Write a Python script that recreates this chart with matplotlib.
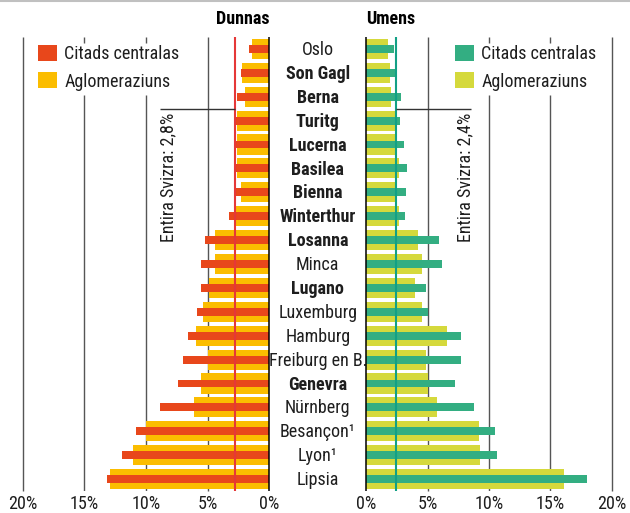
import glob
import matplotlib
matplotlib.use("Agg")
import matplotlib.pyplot as plt
import matplotlib.font_manager as fm
from matplotlib.lines import Line2D

# Prefer a narrow sans face; register any narrow/condensed files on the system
for pattern in ("*Narrow*", "*Condensed*", "*Cond*"):
    for path in glob.glob("/usr/share/fonts/**/" + pattern + ".[ot]tf", recursive=True):
        try:
            fm.fontManager.addfont(path)
        except Exception:
            pass

installed = {f.name for f in fm.fontManager.ttflist}
narrow_choices = ["Liberation Sans Narrow", "DejaVu Sans Condensed", "Roboto Condensed",
                  "Open Sans Condensed", "Noto Sans Condensed"]
narrow = [n for n in narrow_choices if n in installed]
if narrow:
    FAMILY = [narrow[0], "DejaVu Sans"]
    FS = 13
else:
    FAMILY = ["Roboto", "DejaVu Sans"]
    FS = 11

plt.rcParams["font.family"] = FAMILY
plt.rcParams["font.size"] = FS

# Data -----------------------------------------------------------------
cities = ["Oslo", "Son Gagl", "Berna", "Turitg", "Lucerna", "Basilea", "Bienna",
          "Winterthur", "Losanna", "Minca", "Lugano", "Luxemburg", "Hamburg",
          "Freiburg en B.", "Genevra", "Nürnberg", "Besançon¹", "Lyon¹", "Lipsia"]
swiss = [False, True, True, True, True, True, True, True, True, False, True,
         False, False, False, True, False, False, False, False]

women_center = [1.65, 2.3, 2.6, 2.75, 2.8, 2.85, 2.85, 3.25, 5.2, 5.55, 5.55,
                5.85, 6.6, 7.0, 7.4, 8.85, 10.8, 11.95, 13.15]
women_agglo = [1.4, 2.2, 1.95, 2.6, 2.6, 2.6, 2.3, 2.7, 4.4, 4.4, 4.9,
               5.4, 5.95, 5.0, 5.55, 6.1, 10.0, 11.05, 12.9]
men_center = [2.25, 2.4, 2.8, 2.75, 3.05, 3.3, 3.25, 3.15, 5.9, 6.15, 4.85,
              5.05, 7.7, 7.7, 7.2, 8.8, 10.5, 10.65, 17.95]
men_agglo = [1.75, 1.9, 2.0, 2.35, 2.35, 2.65, 2.4, 2.65, 4.2, 4.55, 3.95,
             4.55, 6.55, 4.85, 5.05, 5.75, 9.2, 9.25, 16.1]

swiss_women = 2.8
swiss_men = 2.4

ticks = [0, 5, 10, 15, 20]
tick_labels = ["0%", "5%", "10%", "15%", "20%"]
series_labels = ["Citads centralas", "Aglomeraziuns"]
panel_titles = ["Dunnas", "Umens"]
avg_labels = ["Entira Svizra: 2,8%", "Entira Svizra: 2,4%"]

# Style ----------------------------------------------------------------
RED = "#e8471b"
YELLOW = "#fbbd00"
GREEN = "#33ae82"
LIME = "#d5d93c"
RED_LINE = "#e53838"
GREEN_LINE = "#12a085"
GRID = "#555555"
TEXT = "#1e1e1e"

W, H = 630, 513
fig = plt.figure(figsize=(W / 100, H / 100), dpi=100)

XMAX = 20.25
ax_bottom = (H - 491) / H
ax_height = 454 / H
axL = fig.add_axes([(269.3 - XMAX * 12.33) / W, ax_bottom, XMAX * 12.33 / W, ax_height])
axR = fig.add_axes([366.3 / W, ax_bottom, XMAX * 12.27 / W, ax_height])

rows = list(range(len(cities)))
n = len(cities)


def setup(ax, inverted):
    ax.set_ylim(n - 0.5, -0.5)
    ax.set_xlim((XMAX, 0) if inverted else (0, XMAX))
    for s in ax.spines.values():
        s.set_visible(False)
    ax.set_yticks([])
    ax.set_xticks(ticks)
    ax.set_xticklabels(tick_labels, fontsize=FS, color=TEXT)
    ax.tick_params(axis="x", length=0, pad=3)
    ax.patch.set_alpha(0)
    # vertical grid, interrupted behind the legend at 10% and 15%
    gap_top, gap_bot = (43 - 49) / 23.9, (95 - 49) / 23.9
    for t in ticks[1:]:
        if t in (10, 15):
            ax.vlines(t, -0.5, gap_top, color=GRID, lw=1.0, zorder=1)
            ax.vlines(t, gap_bot, n - 0.5, color=GRID, lw=1.0, zorder=1)
        else:
            ax.vlines(t, -0.5, n - 0.5, color=GRID, lw=1.0, zorder=1, clip_on=False)
    ax.vlines(0, -0.5, n - 0.5, color="black", lw=1.1, zorder=5, clip_on=False)


setup(axL, True)
setup(axR, False)

# Bars
aggL = axL.barh(rows, women_agglo, height=0.84, color=YELLOW, zorder=2)
cenL = axL.barh(rows, women_center, height=0.33, color=RED, zorder=3)
aggR = axR.barh(rows, men_agglo, height=0.84, color=LIME, zorder=2)
cenR = axR.barh(rows, men_center, height=0.33, color=GREEN, zorder=3)

# Swiss averages
axL.vlines(swiss_women, -0.5, n - 0.5, color=RED_LINE, lw=1.5, zorder=4)
axR.vlines(swiss_men, -0.5, n - 0.5, color=GREEN_LINE, lw=1.5, zorder=4)

axL.hlines(2.5, swiss_women, 8.9, color="#333333", lw=1.0, zorder=4)
axR.hlines(2.5, swiss_men, 8.5, color="#333333", lw=1.0, zorder=4)
axL.text(8.17, 2.68, avg_labels[0], rotation=90, ha="center", va="top",
         fontsize=FS, color=TEXT)
axR.text(8.07, 2.68, avg_labels[1], rotation=90, ha="center", va="top",
         fontsize=FS, color=TEXT)

# Titles
axL.annotate(panel_titles[0], xy=(0, -0.5), xytext=(0, 9), textcoords="offset points",
             ha="right", va="baseline", fontsize=FS, fontweight="bold", color="black",
             annotation_clip=False)
axR.annotate(panel_titles[1], xy=(0, -0.5), xytext=(0, 9), textcoords="offset points",
             ha="left", va="baseline", fontsize=FS, fontweight="bold", color="black",
             annotation_clip=False)

# City names between panels
for r, name, bold in zip(rows, cities, swiss):
    axL.annotate(name, xy=(317.8 / W, r), xycoords=(fig.transFigure, axL.transData),
                 xytext=(0, -4.4), textcoords="offset points", ha="center",
                 va="baseline", fontsize=FS, color=TEXT,
                 fontweight="bold" if bold else "normal", annotation_clip=False)

# Legends
legend_kw = dict(loc="upper left", bbox_transform=fig.transFigure, frameon=False,
                 borderpad=0, borderaxespad=0, handlelength=1.05 * 13 / FS,
                 handleheight=1.0 * 13 / FS, handletextpad=0.4, labelspacing=0.5 * 13 / FS,
                 fontsize=FS)
for t in (axL.legend([cenL, aggL], series_labels, bbox_to_anchor=(38 / W, 1 - 45 / H),
                     **legend_kw),
          axR.legend([cenR, aggR], series_labels, bbox_to_anchor=(455 / W, 1 - 45 / H),
                     **legend_kw)):
    for txt in t.get_texts():
        txt.set_color(TEXT)

# Thin rule along the top edge
fig.add_artist(Line2D([0, 1], [1 - 1 / H, 1 - 1 / H], transform=fig.transFigure,
                      color="#c0c0c0", lw=1.5))

fig.savefig("out.png", dpi=100)
